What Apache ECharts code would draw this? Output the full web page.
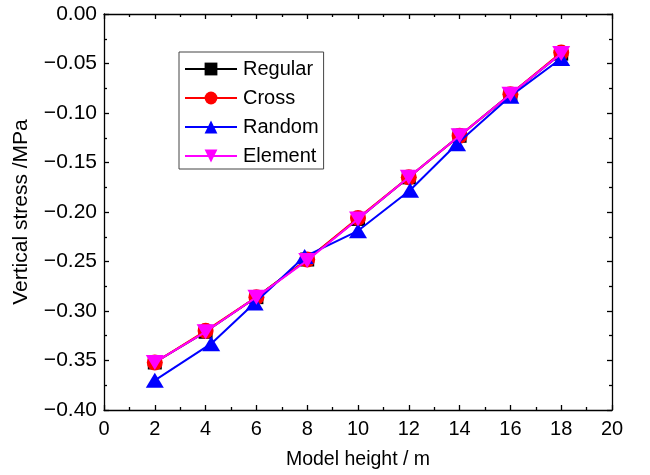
<!DOCTYPE html>
<html>
<head>
<meta charset="utf-8">
<script src="https://cdn.jsdelivr.net/npm/echarts@6/dist/echarts.min.js"></script>
<style>html,body{margin:0;padding:0;background:#fff}#c{width:650px;height:475px}</style>
</head>
<body>
<div id="c"></div>
<script>
const heights = [2, 4, 6, 8, 10, 12, 14, 16, 18];
const randomHeights = [2, 4.22, 5.93, 7.9, 10, 12.05, 13.9, 16, 18];
const regular = [-0.352, -0.321, -0.286, -0.248, -0.207, -0.165, -0.123, -0.081, -0.040];
const cross   = [-0.352, -0.320, -0.286, -0.248, -0.206, -0.165, -0.123, -0.081, -0.039];
const random  = [-0.370, -0.333, -0.292, -0.245, -0.219, -0.178, -0.131, -0.083, -0.045];
const element = [-0.352, -0.321, -0.286, -0.249, -0.207, -0.165, -0.123, -0.081, -0.040];
const seriesNames = ['Regular', 'Cross', 'Random', 'Element'];
const colors = ['#000000', '#ff0000', '#0000ff', '#ff00ff'];

const font = 'Liberation Sans, Arial, sans-serif';
const pairs = (xs, ys) => xs.map((x, i) => [x, ys[i]]);
const fmtY = v => (v < 0 ? '\u2212' : '') + Math.abs(v).toFixed(2);

const baseAxis = {
  axisLine: { show: true, onZero: false, lineStyle: { color: '#000', width: 1.3 } },
  axisTick: { show: true, inside: true, length: 5, lineStyle: { color: '#000', width: 1.3 } },
  minorTick: { show: true, splitNumber: 2, length: 3, lineStyle: { color: '#000', width: 1.3 } },
  splitLine: { show: false }
};

const invTri = 'path://M0,0 L10,0 L5,9 Z';
const symbols = ['rect', 'circle', 'triangle', invTri];
const sizes = [14, 16, [18, 15], [18, 15]];
const dataSets = [pairs(heights, regular), pairs(heights, cross), pairs(randomHeights, random), pairs(heights, element)];

const chart = echarts.init(document.getElementById('c'), null, { renderer: 'canvas' });
chart.setOption({
  animation: false,
  backgroundColor: '#fff',
  grid: { left: 104, right: 38, top: 14, bottom: 63, containLabel: false },
  legend: {
    left: 179, top: 52,
    orient: 'vertical',
    data: seriesNames,
    itemWidth: 52, itemHeight: 16, itemGap: 9,
    padding: [7, 5, 3, 5],
    borderColor: '#444', borderWidth: 1, borderRadius: 0,
    textStyle: { fontFamily: font, fontSize: 20, color: '#000', padding: [0, 0, 0, 1] }
  },
  xAxis: [
    Object.assign({}, baseAxis, {
      type: 'value', min: 0, max: 20, interval: 2, position: 'bottom',
      name: 'Model height / m', nameLocation: 'middle', nameGap: 40,
      nameTextStyle: { fontFamily: font, fontSize: 19.5, color: '#000' },
      axisLabel: { fontFamily: font, fontSize: 20, color: '#000', margin: 9 }
    }),
    Object.assign({}, baseAxis, {
      type: 'value', min: 0, max: 20, interval: 2, position: 'top',
      axisLabel: { show: false }
    })
  ],
  yAxis: [
    Object.assign({}, baseAxis, {
      type: 'value', min: -0.40, max: 0, interval: 0.05, position: 'left',
      name: 'Vertical stress /MPa', nameLocation: 'middle', nameGap: 72,
      nameTextStyle: { fontFamily: font, fontSize: 21, color: '#000' },
      axisLabel: { fontFamily: font, fontSize: 21, color: '#000', margin: 7, formatter: fmtY }
    }),
    Object.assign({}, baseAxis, {
      type: 'value', min: -0.40, max: 0, interval: 0.05, position: 'right',
      axisLabel: { show: false }
    })
  ],
  series: seriesNames.map((n, i) => ({
    name: n,
    type: 'line',
    data: dataSets[i],
    symbol: symbols[i],
    symbolSize: sizes[i],
    showAllSymbol: true,
    z: 2 + i,
    itemStyle: { color: colors[i] },
    lineStyle: { color: colors[i], width: 2 }
  }))
});
</script>
</body>
</html>
